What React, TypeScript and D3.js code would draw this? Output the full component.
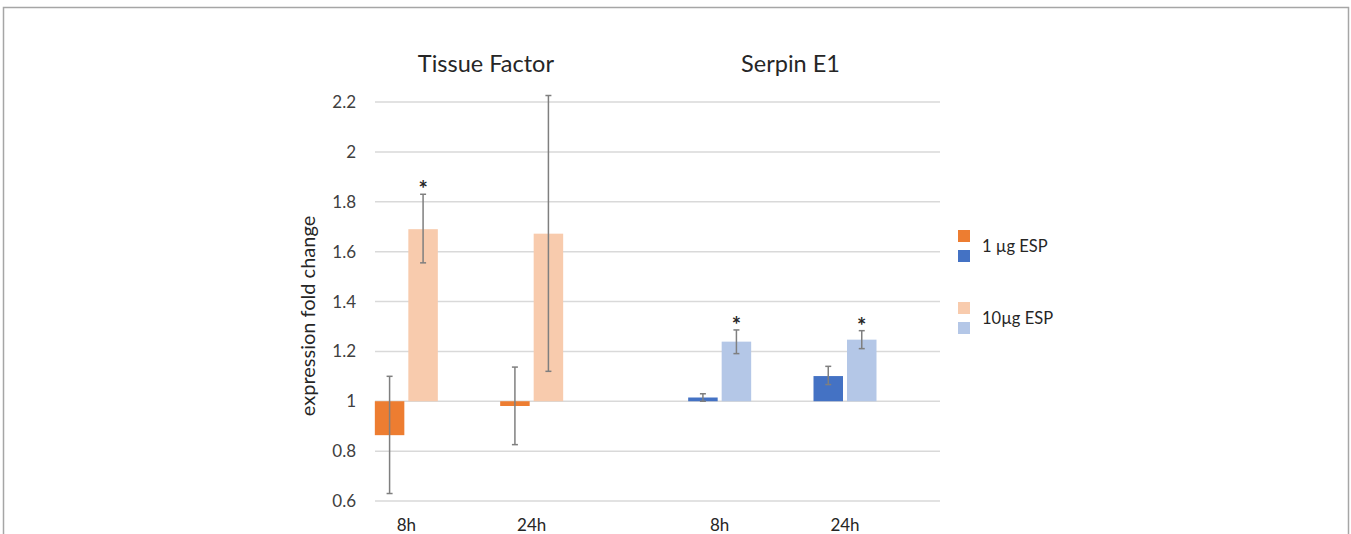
import * as d3 from "d3";
import React, { useRef, useEffect } from "react";

const width = 1351;
const height = 534;
const margin = { top: 102, right: 412, bottom: 33, left: 375 };
const font = "Lato, 'Noto Sans', sans-serif";

// genes and time points
const genes = ["Tissue Factor", "Serpin E1"];
const times = ["8h", "24h"];
const doses = ["1 µg ESP", "10µg ESP"];

// fold change, one row per gene, [8h, 24h]
const lowDose = [[0.864, 0.981], [1.015, 1.101]];
const highDose = [[1.69, 1.672], [1.239, 1.247]];
const lowErrLo = [[0.63, 0.826], [1.0, 1.067]];
const lowErrHi = [[1.1, 1.137], [1.03, 1.14]];
const highErrLo = [[1.555, 1.12], [1.191, 1.211]];
const highErrHi = [[1.83, 2.226], [1.286, 1.283]];
const highStar = [[true, false], [true, true]];

const yTicks = [0.6, 0.8, 1, 1.2, 1.4, 1.6, 1.8, 2, 2.2];

const lowColors = ["#ED7D31", "#4472C4"];
const highColors = ["#F8CBAD", "#B4C7E7"];

// title boxes sit a little off the group centres, in slot units
const titleSlots = [1.77, 6.63];

export default function App() {
  const ref = useRef(null);

  useEffect(() => {
    document.body.style.margin = "0";
    const svg = d3.select(ref.current);
    svg.selectAll("*").remove();

    // border of the picture
    svg.append("path")
      .attr("d", `M3.5,${height} V7.5 H1348.5 V${height}`)
      .attr("fill", "none")
      .attr("stroke", "#a6a6a6")
      .attr("stroke-width", 1.5);

    const y = d3.scaleLinear()
      .domain([0.6, 2.2])
      .range([height - margin.bottom, margin.top]);

    // slot positions: gene g, time t -> g*5 + t*2 + 0.5 of 9 slots
    const slot = d3.scaleLinear().domain([0, 9]).range([margin.left, width - margin.right]);
    const cx = (g, t) => slot(g * 5 + t * 2 + 0.5);
    const barW = 29.5;
    const gap = 4;

    // gridlines
    svg.append("g")
      .selectAll("line")
      .data(yTicks)
      .join("line")
      .attr("x1", margin.left)
      .attr("x2", width - margin.right + 1)
      .attr("y1", d => y(d))
      .attr("y2", d => y(d))
      .attr("stroke", "#d9d9d9")
      .attr("stroke-width", 1.5);

    // y tick labels
    svg.append("g")
      .selectAll("text")
      .data(yTicks)
      .join("text")
      .attr("x", 356)
      .attr("y", d => y(d))
      .attr("dy", "0.36em")
      .attr("text-anchor", "end")
      .attr("font-family", font)
      .attr("font-size", 17)
      .attr("fill", "#404040")
      .text(d => d3.format("")(d));

    const rows = [];
    genes.forEach((gene, g) => {
      times.forEach((time, t) => {
        rows.push({ g, t, dose: 0, v: lowDose[g][t], lo: lowErrLo[g][t], hi: lowErrHi[g][t], star: false, color: lowColors[g] });
        rows.push({ g, t, dose: 1, v: highDose[g][t], lo: highErrLo[g][t], hi: highErrHi[g][t], star: highStar[g][t], color: highColors[g] });
      });
    });

    const bx = d => d.dose === 0 ? cx(d.g, d.t) - gap / 2 - barW : cx(d.g, d.t) + gap / 2;

    svg.append("g")
      .selectAll("rect")
      .data(rows)
      .join("rect")
      .attr("x", bx)
      .attr("width", barW)
      .attr("y", d => Math.min(y(d.v), y(1)))
      .attr("height", d => Math.abs(y(d.v) - y(1)))
      .attr("fill", d => d.color);

    // error bars
    const err = svg.append("g")
      .attr("stroke", "#7f7f7f")
      .attr("stroke-width", 1.5)
      .selectAll("g")
      .data(rows)
      .join("g")
      .attr("transform", d => `translate(${bx(d) + barW / 2},0)`);
    err.append("line")
      .attr("y1", d => y(d.lo))
      .attr("y2", d => y(d.hi));
    err.append("line")
      .attr("x1", -3).attr("x2", 3)
      .attr("y1", d => y(d.lo)).attr("y2", d => y(d.lo));
    err.append("line")
      .attr("x1", -3).attr("x2", 3)
      .attr("y1", d => y(d.hi)).attr("y2", d => y(d.hi));

    // significance stars
    svg.append("g")
      .selectAll("text")
      .data(rows.filter(d => d.star))
      .join("text")
      .attr("x", d => bx(d) + barW / 2)
      .attr("y", d => y(d.hi) + 3)
      .attr("text-anchor", "middle")
      .attr("font-family", font)
      .attr("font-size", 22)
      .attr("font-weight", 700)
      .attr("fill", "#262626")
      .text("*");

    // x tick labels
    const xLabels = [];
    genes.forEach((gene, g) => times.forEach((time, t) => xLabels.push({ g, t, time })));
    svg.append("g")
      .selectAll("text")
      .data(xLabels)
      .join("text")
      .attr("x", d => cx(d.g, d.t))
      .attr("y", 531)
      .attr("text-anchor", "middle")
      .attr("font-family", font)
      .attr("font-size", 17)
      .attr("fill", "#262626")
      .text(d => d.time);

    // gene titles
    svg.append("g")
      .selectAll("text")
      .data(genes)
      .join("text")
      .attr("x", (d, g) => slot(titleSlots[g]))
      .attr("y", 72)
      .attr("text-anchor", "middle")
      .attr("font-family", font)
      .attr("font-size", 23.5)
      .attr("fill", "#262626")
      .text(d => d);

    // y axis title
    svg.append("text")
      .attr("transform", `translate(315,316) rotate(-90)`)
      .attr("text-anchor", "middle")
      .attr("font-family", font)
      .attr("font-size", 20)
      .attr("fill", "#262626")
      .text("expression fold change");

    // legend
    const legendColors = [lowColors, highColors];
    const legend = svg.append("g").attr("transform", "translate(958,230)");
    const item = legend.selectAll("g")
      .data(doses)
      .join("g")
      .attr("transform", (d, i) => `translate(0,${i * 72})`);
    item.selectAll("rect")
      .data((d, i) => legendColors[i])
      .join("rect")
      .attr("x", 0)
      .attr("y", (c, j) => j * 20)
      .attr("width", 12)
      .attr("height", 12)
      .attr("fill", c => c);
    item.append("text")
      .attr("x", 24)
      .attr("y", 22)
      .attr("font-family", font)
      .attr("font-size", 16.5)
      .attr("fill", "#262626")
      .text(d => d);
  }, []);

  return <svg ref={ref} width={width} height={height} style={{ display: "block" }} />;
}
